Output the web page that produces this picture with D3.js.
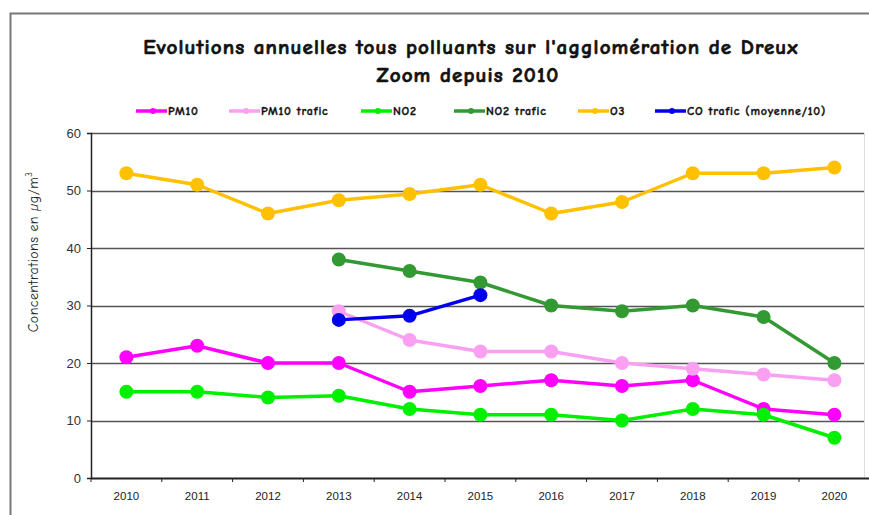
<!DOCTYPE html>
<html>
<head>
<meta charset="utf-8">
<script src="https://cdn.jsdelivr.net/npm/d3@7"></script>
<style>
  body { margin: 0; background: #fff; }
  svg { display: block; }
</style>
</head>
<body>
<svg id="chart" width="869" height="515"></svg>
<script>

// years on the x axis
const years = ["2010", "2011", "2012", "2013", "2014", "2015", "2016", "2017", "2018", "2019", "2020"];
const yTicks = [0, 10, 20, 30, 40, 50, 60];

// series values (null = no measure)
const pm10 = [21, 23, 20, 20, 15, 16, 17, 16, 17, 12, 11];
const pm10Trafic = [null, null, null, 29, 24, 22, 22, 20, 19, 18, 17];
const no2 = [15, 15, 14, 14.3, 12, 11, 11, 10, 12, 11, 7];
const no2Trafic = [null, null, null, 38, 36, 34, 30, 29, 30, 28, 20];
const o3 = [53, 51, 46, 48.3, 49.4, 51, 46, 48, 53, 53, 54];
const coTrafic = [null, null, null, 27.5, 28.2, 31.8, null, null, null, null, null];

const seriesNames = ["PM10", "PM10 trafic", "NO2", "NO2 trafic", "O3", "CO trafic (moyenne/10)"];
const seriesColors = ["#ff00ff", "#f9a0f2", "#00f000", "#339933", "#ffc000", "#0000ee"];

const series = [pm10, pm10Trafic, no2, no2Trafic, o3, coTrafic].map((values, i) => ({
    name: seriesNames[i],
    color: seriesColors[i],
    values: values.map((v, j) => ({ year: years[j], value: v }))
}));

const comic = "'Comic Sans MS', 'Comic Neue', 'DejaVu Sans', sans-serif";

const svg = d3.select("#chart");

// outer frame (only top and left edges visible in the picture)
svg.append("path")
    .attr("d", "M10.5,515 V13.5 H869")
    .attr("fill", "none")
    .attr("stroke", "#777")
    .attr("stroke-width", 2);

// title (stroked a little to look bold)
const title = svg.append("text")
    .attr("text-anchor", "middle")
    .attr("font-family", comic)
    .attr("font-weight", "bold")
    .attr("font-size", 21)
    .attr("letter-spacing", 1.1)
    .attr("fill", "#111")
    .attr("stroke", "#111")
    .attr("stroke-width", 0.7);
title.append("tspan").attr("x", 471).attr("y", 54)
    .text("Evolutions annuelles tous polluants sur l'agglomération de Dreux");
title.append("tspan").attr("x", 468).attr("y", 82)
    .text("Zoom depuis 2010");

// scales
const x = d3.scaleBand()
    .domain(years)
    .range([91, 869.8]);

const y = d3.scaleLinear()
    .domain([0, 60])
    .range([478, 133]);

const plotRight = 864;

// gridlines
svg.append("g")
    .selectAll("line")
    .data(yTicks.filter(d => d > 0))
    .enter()
    .append("line")
    .attr("x1", 91)
    .attr("x2", plotRight)
    .attr("y1", d => Math.round(y(d)) + 0.5)
    .attr("y2", d => Math.round(y(d)) + 0.5)
    .attr("stroke", "#555")
    .attr("stroke-width", 1.3);

// faint right edge of plot area
svg.append("line")
    .attr("x1", plotRight + 0.5).attr("x2", plotRight + 0.5)
    .attr("y1", 133).attr("y2", 478)
    .attr("stroke", "#ddd");

// y axis
const yAxis = svg.append("g")
    .attr("transform", "translate(91,0)")
    .call(d3.axisLeft(y).tickValues(yTicks).tickSize(4).tickPadding(6));
yAxis.select(".domain").attr("stroke", "#222").attr("stroke-width", 1.5);
yAxis.selectAll(".tick line").attr("stroke", "#222");
yAxis.selectAll("text")
    .attr("font-family", "Arial, 'Liberation Sans', sans-serif")
    .attr("font-size", 13)
    .attr("fill", "#333");

// x axis: ticks sit on the band boundaries
const xAxis = svg.append("g")
    .attr("transform", "translate(0,478)")
    .call(d3.axisBottom(x).tickSize(0).tickPadding(14));
xAxis.select(".domain").attr("stroke", "#222").attr("stroke-width", 1.8);
xAxis.selectAll("text")
    .attr("font-family", "Arial, 'Liberation Sans', sans-serif")
    .attr("font-size", 11.5)
    .attr("fill", "#222");
xAxis.selectAll(".boundary")
    .data(years)
    .enter()
    .append("line")
    .attr("x1", d => x(d))
    .attr("x2", d => x(d))
    .attr("y1", 0)
    .attr("y2", 4)
    .attr("stroke", "#222");

// y axis title
svg.append("text")
    .attr("transform", "translate(38,252) rotate(-90)")
    .attr("text-anchor", "middle")
    .attr("font-family", comic)
    .attr("font-size", 14)
    .attr("letter-spacing", 0.4)
    .attr("fill", "#222")
    .html("Concentrations en <tspan font-style='italic'>µ</tspan>g/m<tspan dy='-6' font-size='9'>3</tspan>");

// lines and points
const line = d3.line()
    .defined(d => d.value !== null)
    .x(d => x(d.year) + x.bandwidth() / 2)
    .y(d => y(d.value));

const groups = svg.append("g")
    .selectAll(".serie")
    .data(series)
    .enter()
    .append("g")
    .attr("class", "serie");

groups.append("path")
    .attr("d", d => line(d.values))
    .attr("fill", "none")
    .attr("stroke", d => d.color)
    .attr("stroke-width", 3.5)
    .attr("stroke-linejoin", "round");

groups.selectAll("circle")
    .data(d => d.values.filter(v => v.value !== null).map(v => ({ ...v, color: d.color })))
    .enter()
    .append("circle")
    .attr("cx", d => x(d.year) + x.bandwidth() / 2)
    .attr("cy", d => y(d.value))
    .attr("r", 7)
    .attr("fill", d => d.color);

// legend
const legendX = [136, 229, 361, 454, 578, 655];
const legend = svg.append("g")
    .selectAll(".legendItem")
    .data(series)
    .enter()
    .append("g")
    .attr("transform", (d, i) => `translate(${legendX[i]},111)`);

legend.append("line")
    .attr("x1", 0).attr("x2", 31)
    .attr("stroke", d => d.color)
    .attr("stroke-width", 3.5);
legend.append("circle")
    .attr("cx", 17).attr("r", 3)
    .attr("fill", d => d.color);
legend.append("text")
    .attr("x", 32)
    .attr("y", 4)
    .attr("font-family", comic)
    .attr("font-weight", "bold")
    .attr("font-size", 12)
    .attr("letter-spacing", 0.8)
    .attr("fill", "#111")
    .attr("stroke", "#111")
    .attr("stroke-width", 0.35)
    .text(d => d.name);

</script>
</body>
</html>
